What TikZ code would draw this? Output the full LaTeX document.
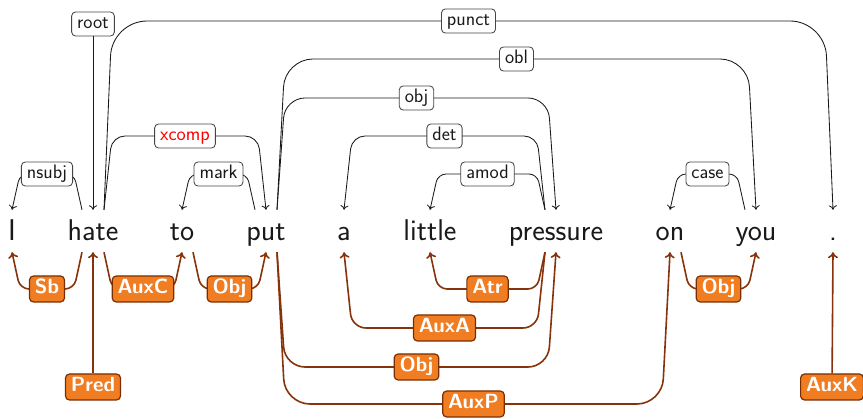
\documentclass[tikz,border=0pt]{standalone}
\usepackage{fontspec}
\usetikzlibrary{arrows.meta,calc}
\definecolor{edgebrown}{RGB}{134,50,10}
\definecolor{laborange}{RGB}{240,125,34}
\definecolor{labborder}{RGB}{122,46,0}
\definecolor{ink}{RGB}{25,25,25}
\definecolor{boxgray}{RGB}{70,70,70}
\tikzset{
  word/.style={inner sep=0pt,text height=31pt,text depth=11pt,anchor=base,
    font=\fontsize{30}{32}\selectfont\sffamily,text=ink},
  upedge/.style={draw=ink,line width=0.85pt,-{To[length=4.5pt,width=8pt]}},
  downedge/.style={draw=edgebrown,line width=1.6pt,-{To[length=6pt,width=10pt]}},
  uplab/.style={draw=boxgray,fill=white,line width=0.85pt,rounded corners=4pt,
    inner xsep=5.5pt,inner ysep=3.3pt,text height=13.5pt,text depth=4pt,
    font=\fontsize{19.5}{20}\selectfont\sffamily,text=ink},
  downlab/.style={draw=labborder,fill=laborange,line width=1.2pt,rounded corners=4pt,
    inner xsep=5.5pt,inner ysep=4pt,text height=14pt,text depth=4pt,
    font=\fontsize{20.5}{21}\selectfont\sffamily\bfseries,text=white},
}
% #1 label name, #2 source, #3 dir (1/-1), #4 target, #5 level y, #6 radius, #7 text, #8 label style
\newcommand\uparc[8]{%
  \pgfmathsetlengthmacro\dso{(#3)*11pt}%
  \pgfmathsetlengthmacro\dsa{(#3)*8pt}%
  \pgfmathsetlengthmacro\dsb{0pt-(#3)*8pt}%
  \draw[upedge,rounded corners=#6pt] let \p1=([xshift=\dso]#2.north), \p2=(#4.north) in
    (\p1) -- ([xshift=\dsa]\x1,-#5pt) -- node[uplab,#8] (#1) {#7} ([xshift=\dsb]\x2,-#5pt) -- (\p2);}
\newcommand\downarc[8]{%
  \pgfmathsetlengthmacro\dso{(#3)*11pt}%
  \pgfmathsetlengthmacro\dsa{(#3)*8pt}%
  \pgfmathsetlengthmacro\dsb{0pt-(#3)*8pt}%
  \draw[downedge,rounded corners=#6pt] let \p1=([xshift=\dso]#2.south), \p2=(#4.south) in
    (\p1) -- ([xshift=\dsa]\x1,-#5pt) -- node[downlab,#8] (#1) {#7} ([xshift=\dsb]\x2,-#5pt) -- (\p2);}
\begin{document}
\begin{tikzpicture}[x=1pt,y=-1pt]
\useasboundingbox (0,0) rectangle (863,419);
% words
\node[word] (wI) at (12,241) {I};
\node[word] (hate) at (93,241) {hate};
\node[word] (to) at (182,241) {to};
\node[word] (put) at (266,241) {put};
\node[word] (wa) at (344,241) {a};
\node[word] (little) at (430,241) {little};
\node[word] (pressure) at (556,241) {pressure};
\node[word] (on) at (670,241) {on};
\node[word] (you) at (756,241) {you};
\node[word] (dot) at (833,241) {.};
% upper (black) arcs
\node[uplab] (root) at (93,24) {root};
\draw[upedge] (root) -- (hate.north);
\uparc{nsubj}{hate}{-1}{wI}{174}{8}{nsubj}{}
\uparc{punct}{hate}{1}{dot}{21}{35}{punct}{}
\uparc{xcomp}{hate}{1}{put}{136}{13}{xcomp}{text=red}
\uparc{mark}{put}{-1}{to}{174}{8}{mark}{}
\uparc{obj}{put}{1}{pressure}{98}{20}{obj}{}
\uparc{obl}{put}{1}{you}{59}{28}{obl}{}
\uparc{det}{pressure}{-1}{wa}{136}{13}{det}{}
\uparc{amod}{pressure}{-1}{little}{174}{8}{amod}{}
\uparc{case}{you}{-1}{on}{174}{8}{case}{}
% lower (orange) arcs
\downarc{sb}{hate}{-1}{wI}{289}{9}{Sb}{}
\downarc{auxc}{hate}{1}{to}{289}{9}{AuxC}{}
\downarc{obja}{to}{1}{put}{289}{9}{Obj}{}
\downarc{objb}{put}{1}{pressure}{367}{20}{Obj}{}
\downarc{auxp}{put}{1}{on}{404}{25}{AuxP}{}
\downarc{auxa}{pressure}{-1}{wa}{328}{14}{AuxA}{}
\downarc{atr}{pressure}{-1}{little}{289}{9}{Atr}{}
\downarc{objc}{on}{1}{you}{289}{9}{Obj}{}
\node[downlab] (pred) at (93,387) {Pred};
\draw[downedge] (pred) -- (hate.south);
\node[downlab] (auxk) at (832,387) {AuxK};
\draw[downedge] (auxk) -- (dot.south);
\end{tikzpicture}
\end{document}
